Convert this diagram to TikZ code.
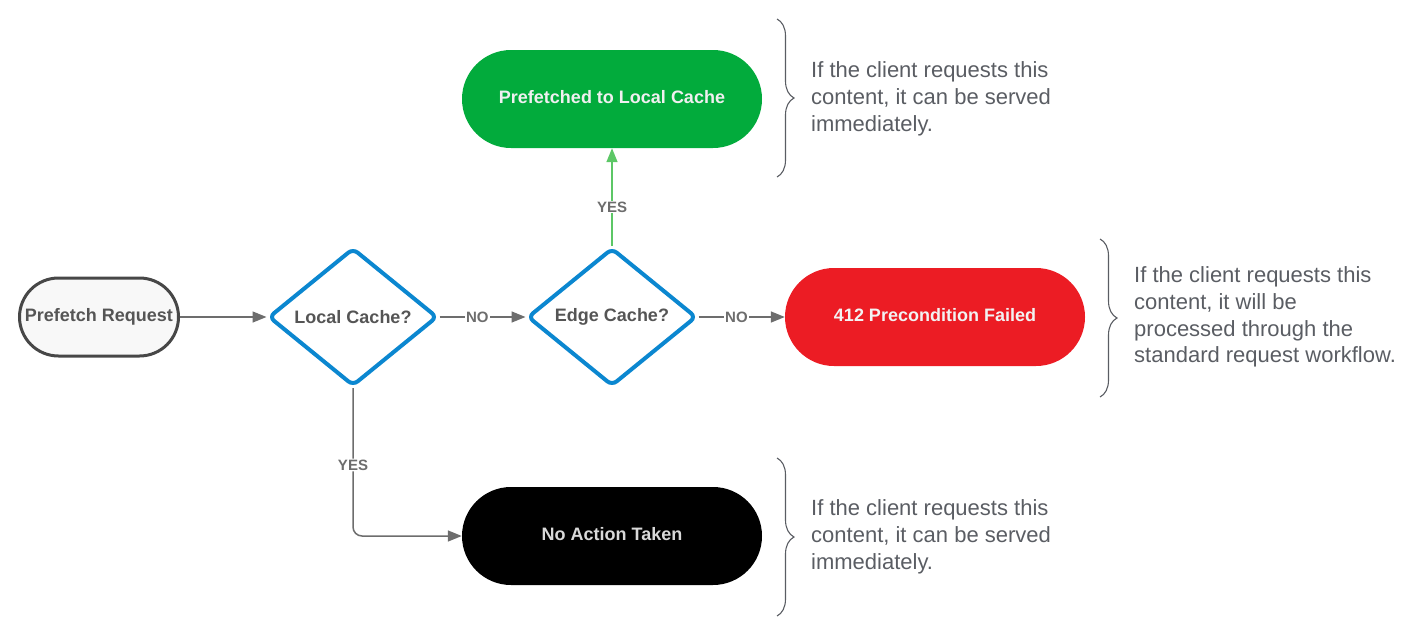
\documentclass[tikz,border=0pt]{standalone}
\usepackage{fontspec}
\setmainfont{Liberation Sans}
\usetikzlibrary{shapes.geometric,arrows.meta,decorations.pathreplacing}
\definecolor{startfill}{HTML}{F8F8F8}
\definecolor{startdraw}{HTML}{474747}
\definecolor{labeltext}{HTML}{555555}
\definecolor{decblue}{HTML}{0B87D0}
\definecolor{okgreen}{HTML}{02AB3C}
\definecolor{failred}{HTML}{EC1C24}
\definecolor{conncol}{HTML}{6D6D6D}
\definecolor{conngreen}{HTML}{5CC766}
\definecolor{desccol}{HTML}{5A5D63}
\begin{document}
\begin{tikzpicture}[x=1pt,y=-1pt,
  nodefont/.style={font=\bfseries\fontsize{18}{21}\selectfont},
  startbox/.style={nodefont, draw=startdraw, line width=3pt, fill=startfill, text=labeltext,
    rectangle, rounded corners=39pt, minimum width=159pt, minimum height=78pt, inner sep=0pt},
  decision/.style={nodefont, diamond, draw=decblue, line width=4pt, fill=white, text=labeltext,
    aspect=1.24, minimum width=169pt, minimum height=138pt, inner sep=0pt, rounded corners=6pt},
  pill/.style={nodefont, rectangle, rounded corners=49pt, minimum width=300pt, minimum height=98pt,
    inner sep=0pt, text depth=4pt, text height=13pt},
  conn/.style={draw=conncol, line width=1.5pt, -{Triangle[length=14pt,width=11pt]}},
  conng/.style={draw=conngreen, line width=1.5pt, -{Triangle[length=14pt,width=11pt]}},
  lbl/.style={fill=white, text=conncol, font=\bfseries\fontsize{15}{17}\selectfont, inner sep=1pt},
  bracestyle/.style={draw=desccol, line width=1.1pt, decorate, decoration={brace, amplitude=17pt}},
  desc/.style={text=desccol, font=\fontsize{22}{26.8}\selectfont, align=left, anchor=west, inner sep=0pt}
]
\useasboundingbox (0,0) rectangle (1413,640);

\node[startbox] (pre) at (99,317) {Prefetch Request};
\node[decision] (lc) at (353,317) {Local Cache?};
\node[decision] (ec) at (612,317) {Edge Cache?};
\node[pill, fill=failred, text=white!95!black] (fail) at (935,317) {412 Precondition Failed};
\node[pill, fill=okgreen, text=white!94!black] (pf) at (612,99) {Prefetched to Local Cache};
\node[pill, fill=black, text=white!85!black] (na) at (612,536) {No Action Taken};

\draw[conn] (pre) -- (lc);
\draw[conn] (lc) -- node[lbl, pos=0.44] {NO} (ec);
\draw[conn] (ec) -- node[lbl, pos=0.44] {NO} (fail);
\draw[conng] (ec) -- node[lbl, pos=0.4] {YES} (pf);
\draw[conn, rounded corners=9pt] (lc.south) |- node[lbl, pos=0.26] {YES} (na.west);

\coordinate (b1t) at (777,19);
\coordinate (b1b) at (777,177);
\draw[bracestyle] (b1t) -- (b1b);
\node[desc] (d1) at (811,99) {If the client requests this\\content, it can be served\\immediately.};

\coordinate (b2t) at (1100,239);
\coordinate (b2b) at (1100,397);
\draw[bracestyle] (b2t) -- (b2b);
\node[desc] (d2) at (1134,317) {If the client requests this\\content, it will be\\processed through the\\standard request workflow.};

\coordinate (b3t) at (777,458);
\coordinate (b3b) at (777,616);
\draw[bracestyle] (b3t) -- (b3b);
\node[desc] (d3) at (811,537) {If the client requests this\\content, it can be served\\immediately.};
\end{tikzpicture}
\end{document}
